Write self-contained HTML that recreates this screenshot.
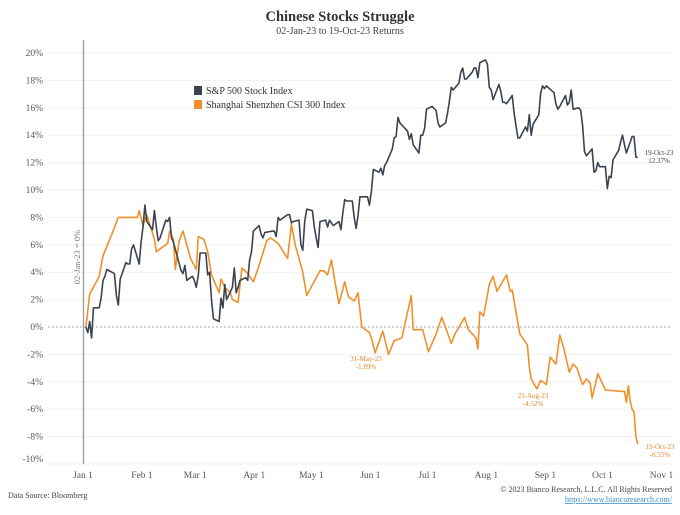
<!DOCTYPE html>
<html><head><meta charset="utf-8"><style>
body{margin:0;background:#fff;width:680px;height:510px;overflow:hidden;font-family:"Liberation Serif",serif}
svg text{font-family:"Liberation Serif",serif}
</style></head><body>
<svg id="chart" width="680" height="510" xmlns="http://www.w3.org/2000/svg">
<text x="340" y="21" text-anchor="middle" font-size="14.5" font-weight="bold" fill="#333">Chinese Stocks Struggle</text>
<text x="340" y="34" text-anchor="middle" font-size="10" fill="#444">02-Jan-23 to 19-Oct-23 Returns</text>
<g id="grid"></g>
<g id="yaxis"></g>
<g id="xaxis"></g>
<line x1="83.5" y1="40" x2="83.5" y2="464" stroke="#999" stroke-width="1.3"/>
<text transform="translate(80,257) rotate(-90)" text-anchor="middle" font-size="8.5" fill="#777">02-Jan-23 = 0%</text>
<g id="series"></g>
<g>
<g><rect x="194" y="86" width="8" height="9" fill="#3b4250"/><text x="206" y="94" font-size="10" fill="#333">S&amp;P 500 Stock Index</text></g>
<g><rect x="194" y="100" width="8" height="9" fill="#f0902a"/><text x="206" y="108" font-size="10" fill="#333">Shanghai Shenzhen CSI 300 Index</text></g>
</g>
<g font-size="7" text-anchor="middle">
<text x="366" y="361" fill="#e8892a">31-May-23</text>
<text x="366" y="369" fill="#e8892a">-1.89%</text>
<text x="533" y="398" fill="#e8892a">23-Aug-23</text>
<text x="533" y="406" fill="#e8892a">-4.52%</text>
<text x="660" y="449" fill="#e8892a">19-Oct-23</text>
<text x="660" y="457" fill="#e8892a">-8.55%</text>
<text x="659" y="155" fill="#3b4250">19-Oct-23</text>
<text x="659" y="163" fill="#3b4250">12.37%</text>
</g>
<text x="8" y="498" font-size="8" fill="#444">Data Source: Bloomberg</text>
<text x="672" y="492" text-anchor="end" font-size="8" fill="#444">© 2023 Bianco Research, L.L.C. All Rights Reserved</text>
<text x="672" y="502" text-anchor="end" font-size="8" fill="#3a8fc4" text-decoration="underline">https://www.biancoresearch.com/</text>
</svg>
<script>
const yTicks=[20,18,16,14,12,10,8,6,4,2,0,-2,-4,-6,-8,-10];
const xTickLabels=["Jan 1","Feb 1","Mar 1","Apr 1","May 1","Jun 1","Jul 1","Aug 1","Sep 1","Oct 1","Nov 1"];
const xTickDays=[0,31,59,90,120,151,181,212,243,273,304];
// S&P 500: day-of-year (Jan 1 = 0) and return %
const spDays=[1,2,3,4,5,8,9,10,11,12,16,17,18,19,22,23,24,25,26,29,30,31,32,33,36,37,38,39,40,43,44,45,46,47,51,52,53,54,57,58,59,60,61,64,65,66,67,68,71,72,73,74,75,78,79,80,81,82,85,86,87,88,89,92,93,94,95,99,100,101,102,103,106,107,108,109,110,113,114,115,116,117,120,121,122,123,124,127,128,129,130,131,134,135,136,137,138,141,142,143,144,145,149,150,151,152,155,156,157,158,159,162,163,164,165,166,170,171,172,173,176,177,178,179,180,183,185,186,187,190,191,192,193,194,197,198,199,200,201,204,205,206,207,208,211,212,213,214,215,218,219,220,221,222,225,226,227,228,229,232,233,234,235,236,239,240,241,242,243,247,248,249,250,253,254,255,256,257,260,261,262,263,264,267,268,269,270,271,274,275,276,277,278,281,282,283,284,285,288,289,290,291];
const spVals=[0,-0.4,0.4,-0.8,1.4,1.4,2.1,3.4,3.7,4.2,3.9,2.3,1.6,3.5,4.7,4.6,4.6,5.7,6.0,4.6,6.2,7.3,8.9,7.7,7.1,8.5,7.3,6.3,6.5,7.8,7.7,8.0,6.5,6.2,4.1,3.9,4.5,3.4,3.7,3.4,2.9,3.7,5.4,5.4,3.8,4.0,2.0,0.6,0.4,2.1,1.4,3.1,2.0,2.9,4.3,2.5,2.9,3.4,3.6,3.4,4.9,5.5,7.0,7.4,6.8,6.5,6.9,7.0,7.0,6.6,8.0,7.8,8.1,8.2,8.2,7.6,7.7,7.8,6.0,5.6,7.7,8.6,8.5,7.3,6.5,5.8,7.7,7.8,7.3,7.8,7.6,7.4,7.7,7.1,8.3,9.3,9.2,9.2,8.0,7.2,8.1,9.5,9.5,8.9,9.9,11.5,11.3,11.6,11.1,11.8,12.0,13.0,13.8,13.9,15.3,14.9,14.3,13.7,14.1,13.3,12.7,14.0,14.0,14.5,15.9,16.1,15.8,14.9,14.6,14.9,15.6,16.5,17.5,17.3,17.8,18.6,18.9,18.1,18.1,18.6,18.9,18.9,18.2,19.3,19.5,19.2,17.5,17.3,16.6,17.7,17.2,16.4,16.4,16.3,16.9,15.6,14.7,13.8,13.8,14.6,14.3,15.5,14.0,14.8,15.5,17.1,17.6,17.4,17.6,17.1,16.3,15.9,16.1,16.9,16.2,16.4,17.3,15.9,16.0,15.8,14.7,12.8,12.5,13.0,11.3,11.4,12.0,11.7,11.7,10.1,11.0,10.9,12.2,12.9,13.5,14.0,13.3,12.7,13.9,13.9,12.4,12.37];
// CSI 300: day-of-year and return %
const csiDays=[1,3,8,10,15,18,28,29,31,33,37,38,44,45,47,48,50,52,56,59,60,63,65,67,71,72,74,77,78,81,83,86,89,92,96,98,102,107,109,111,115,117,124,126,128,130,132,134,137,139,142,144,146,150,151,153,157,160,163,167,172,173,178,181,185,188,193,195,200,202,206,207,208,210,213,215,217,222,224,225,228,229,233,234,235,238,240,243,244,245,248,250,252,255,257,259,262,264,266,267,270,272,274,283,284,285,286,287,288,289,290,291];
const csiVals=[0,2.4,3.7,5.2,6.9,8.0,8.0,8.5,7.4,8.2,6.4,5.5,6.1,7.0,6.4,4.2,6.3,7.0,5.0,4.2,6.6,6.4,5.5,3.8,2.5,3.5,2.9,2.5,2.0,1.8,4.3,3.9,3.3,4.5,6.3,6.5,6.1,5.0,7.5,6.0,4.0,2.3,4.1,4.1,3.8,4.9,3.2,1.7,3.3,2.2,1.9,2.5,0.0,-0.4,-0.8,-1.89,-0.3,-2.0,-1.0,-0.8,2.3,-0.2,-0.2,-1.8,-0.5,0.7,-1.2,-0.5,0.7,-0.2,-0.8,-1.6,1.1,0.8,3.1,3.7,2.6,3.8,2.6,2.7,0.3,-0.5,-1.3,-2.9,-3.8,-4.52,-3.9,-4.2,-3.2,-2.2,-2.7,-0.6,-1.5,-3.3,-2.7,-3.0,-4.2,-3.8,-4.1,-5.2,-3.4,-4.0,-4.6,-4.7,-4.7,-5.5,-4.3,-5.4,-6.0,-6.2,-8.0,-8.55];

const NS="http://www.w3.org/2000/svg";
const X0=84,PXD=1.903,Y0=327,PXP=13.7;
function xS(d){return X0+d*PXD;}
function yS(v){return Y0-v*PXP;}
const grid=document.getElementById('grid'),ya=document.getElementById('yaxis'),xa=document.getElementById('xaxis'),ser=document.getElementById('series');
yTicks.forEach(function(t){
  const l=document.createElementNS(NS,'line');
  
  
  l.setAttribute('x1',48);l.setAttribute('x2',672);l.setAttribute('y1',yS(t));l.setAttribute('y2',yS(t));
  if(t===0){l.setAttribute('stroke','#aaa');l.setAttribute('stroke-dasharray','2,2');}
  else l.setAttribute('stroke','#f0f0f0');
  grid.appendChild(l);
  const tx=document.createElementNS(NS,'text');
  
  
  tx.setAttribute('x',43);tx.setAttribute('y',Math.min(yS(t)+3,462));tx.setAttribute('text-anchor','end');
  tx.setAttribute('font-size','9.5');tx.setAttribute('fill','#555');
  tx.textContent=t+'%';ya.appendChild(tx);
});
xTickLabels.forEach(function(lb,i){
  const tx=document.createElementNS(NS,'text');
  
  
  tx.setAttribute('x',xS(xTickDays[i])-1);tx.setAttribute('y',478);tx.setAttribute('text-anchor','middle');
  tx.setAttribute('font-size','9.5');tx.setAttribute('fill','#555');
  tx.textContent=lb;xa.appendChild(tx);
});
function line(days,vals,color,name){
  const p=document.createElementNS(NS,'path');
  
  
  p.setAttribute('d',days.map(function(d,i){return (i?'L':'M')+xS(d).toFixed(1)+','+yS(vals[i]).toFixed(1);}).join(''));
  p.setAttribute('fill','none');p.setAttribute('stroke',color);p.setAttribute('stroke-width','1.6');p.setAttribute('stroke-linejoin','round');
  ser.appendChild(p);
}
line(csiDays,csiVals,'#f0902a','csi300-line');
line(spDays,spVals,'#3b4250','sp500-line');
</script>
</body></html>
